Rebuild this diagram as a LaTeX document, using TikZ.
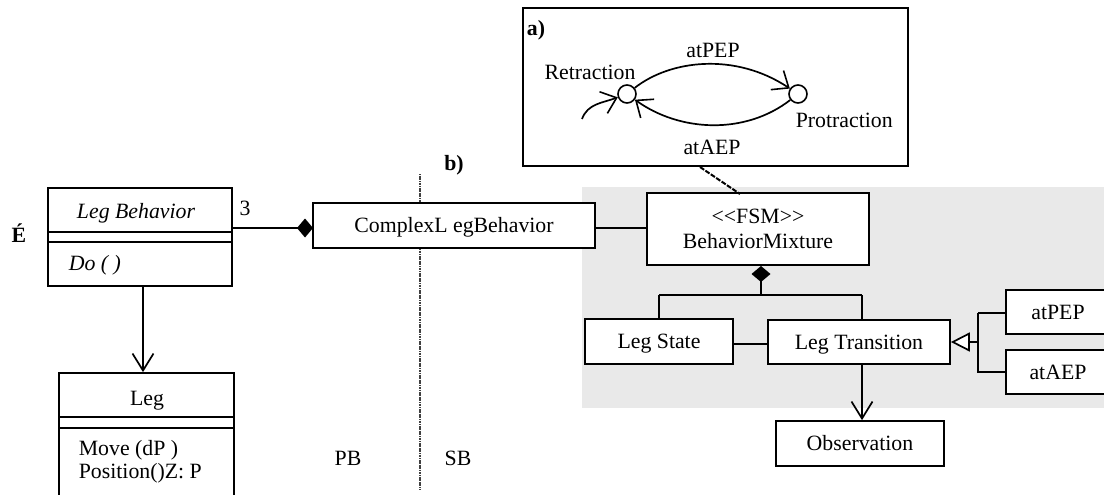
\documentclass[tikz,border=0pt]{standalone}
\usepackage{fontspec}
\setmainfont{Liberation Serif}
\usetikzlibrary{arrows.meta}
\begin{document}
\begin{tikzpicture}[x=1pt,y=-1pt,line width=1.7pt,
  every node/.style={font=\fontsize{21.8}{25}\selectfont},
  box/.style={draw,fill=white,inner sep=0pt,text height=14.4pt,text depth=0pt},
  lbl/.style={inner sep=0pt,text height=14.4pt,text depth=0pt},
  vee/.style={-{Straight Barb[length=17pt,width=21pt,line width=1.7pt]}},
  barb/.style={-{Straight Barb[length=14pt,width=23pt,line width=1.6pt]}},
  comp/.style={{Diamond[fill=black,length=16pt,width=19pt]}-},
  gen/.style={-{Triangle[open,fill=white,length=19pt,width=19pt,line width=1.7pt]}},
  state/.style={circle,draw,fill=white,minimum size=18pt,inner sep=0pt,line width=1.6pt}]
\useasboundingbox (0,0) rectangle (1104,495);

% shaded region of the state-based part
\fill[gray!17] (582,187) rectangle (1104,408);

% separator between the two parts
\coordinate (sepT) at (420,174);
\coordinate (sepB) at (420,490);
\draw[line width=1.8pt,black!75,dash pattern=on 1.2pt off 0.5pt] (sepT) -- (sepB);

% ---------- a) state machine ----------
\node[draw,minimum width=385pt,minimum height=158pt,inner sep=0pt] (fsm) at (715.5,87) {};
\node[lbl,font=\fontsize{21.8}{25}\selectfont\bfseries,anchor=west] (la) at (526,28) {a)};
\node[state] (ret) at (627,94) {};
\node[state] (pro) at (798,94) {};
\node[lbl] (retl) at (590,72) {Retraction};
\node[lbl,anchor=west] (prol) at (795,120) {Protraction};
\node[lbl] (pepl) at (713,50) {atPEP};
\node[lbl] (aepl) at (712,147) {atAEP};
\coordinate (init) at (582,119);
\draw[barb] (init) to[out=70,in=200] (ret);
\draw[barb] (ret) .. controls (670,60) and (735,52) .. (pro);
\draw[barb] (pro) .. controls (745,135) and (680,132) .. (ret);

% ---------- left part ----------
\node[lbl,font=\fontsize{21.8}{25}\selectfont\bfseries] (acc) at (19,235) {É};
\node[draw,fill=white,minimum width=184pt,minimum height=98pt,inner sep=0pt] (lb) at (140,237) {};
\coordinate (lbd1) at (48,232);
\coordinate (lbd2) at (48,242);
\draw (lbd1) -- (lbd1 -| lb.east);
\draw (lbd2) -- (lbd2 -| lb.east);
\node[lbl,font=\fontsize{21.8}{25}\selectfont\itshape] (lbt) at (136,211) {Leg Behavior};
\node[lbl,font=\fontsize{21.8}{25}\selectfont\itshape,anchor=west] (lbdo) at (68,263) {Do ( )};

\node[draw,fill=white,minimum width=175pt,minimum height=132pt,inner sep=0pt] (leg) at (146.5,439) {};
\coordinate (lgd1) at (59,417);
\coordinate (lgd2) at (59,428);
\draw (lgd1) -- (lgd1 -| leg.east);
\draw (lgd2) -- (lgd2 -| leg.east);
\node[lbl] (legt) at (147,398) {Leg};
\node[lbl,anchor=west] (legm1) at (78,448) {Move (dP )};
\node[lbl,anchor=west] (legm2) at (78,471) {Position()Z: P};

\coordinate (ab) at (143,286);
\draw[vee] (ab) -- (ab |- leg.north);

\node[box,minimum width=282pt,minimum height=45pt] (clb) at (454,225.5) {ComplexL egBehavior};
\coordinate (cd) at (313,228);
\draw[comp] (cd) -- (cd -| lb.east);
\node[lbl] (mult) at (245,208) {3};
\node[lbl,font=\fontsize{21.8}{25}\selectfont\bfseries] (lbb) at (454,163) {b)};

\node[lbl] (pb) at (348,458) {PB};
\node[lbl] (sb) at (458,458) {SB};

% ---------- right part ----------
\node[draw,fill=white,minimum width=222pt,minimum height=72pt,inner sep=0pt,align=center] (bm) at (758,229) {<\kern0pt<FSM>\kern0pt>\\BehaviorMixture};
\coordinate (cm) at (595,228);
\draw (cm) -- (cm -| bm.west);

\coordinate (lkA) at (700,167);
\coordinate (lkB) at (740,194);
\draw[line width=2pt,dash pattern=on 5pt off 1.5pt] (lkA) -- (lkB);

\node[box,minimum width=148pt,minimum height=45pt] (ls) at (659,341.5) {Leg State};
\node[box,minimum width=182pt,minimum height=44pt] (lt) at (859,342) {Leg Transition};
\coordinate (lsl) at (733,344);
\draw (lsl) -- (lsl -| lt.west);

\coordinate (dtop) at (761,266);
\coordinate (j) at (761,295);
\draw[comp] (dtop) -- (j);
\coordinate (jl) at (659,295);
\coordinate (jr) at (862,295);
\draw (jl) -- (jr);
\draw (jl) -- (jl |- ls.north);
\draw (jr) -- (jr |- lt.north);

\node[box,minimum width=104pt,minimum height=44pt] (pep) at (1058,312) {atPEP};
\node[box,minimum width=104pt,minimum height=44pt] (aep) at (1058,372) {atAEP};
\coordinate (g) at (978,342);
\coordinate (gt) at (978,313);
\draw (gt) -- (gt -| pep.west);
\draw (gt) -- (g) |- (aep.west);
\draw[gen] (g) -- (lt.east);

\node[box,minimum width=168pt,minimum height=45pt] (obs) at (860,443.5) {Observation};
\coordinate (ob) at (862,364);
\draw[vee] (ob) -- (ob |- obs.north);
\end{tikzpicture}
\end{document}
